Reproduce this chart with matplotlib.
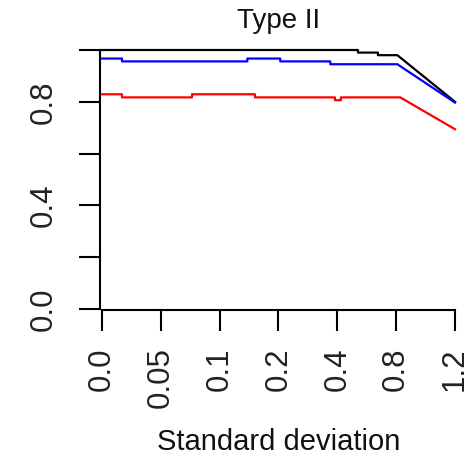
import matplotlib
matplotlib.use("Agg")
import matplotlib.pyplot as plt

# Category tick labels (equally spaced positions)
sd_labels = ["0.0", "0.05", "0.1", "0.2", "0.4", "0.8", "1.2"]

# Series vertices: x in category-index units, y = value
black_x = [0, 4.35, 4.35, 4.69, 4.69, 5.02, 6.0]
black_y = [1.0, 1.0, 0.99, 0.99, 0.98, 0.98, 0.80]

blue_x = [0, 0.34, 0.34, 2.47, 2.47, 3.03, 3.03, 3.88, 3.88, 5.02, 6.0]
blue_y = [0.967, 0.967, 0.956, 0.956, 0.967, 0.967, 0.956, 0.956, 0.945, 0.945, 0.797]

red_x = [0, 0.34, 0.34, 1.53, 1.53, 2.60, 2.60, 3.96, 3.96, 4.06, 4.06, 5.07, 6.0]
red_y = [0.829, 0.829, 0.817, 0.817, 0.829, 0.829, 0.817, 0.817, 0.806, 0.806, 0.817, 0.817, 0.694]

y_ticks = [0.0, 0.2, 0.4, 0.6, 0.8, 1.0]
y_ticklabels = ["0.0", "", "0.4", "", "0.8", ""]

plt.rcParams['font.family'] = ['Liberation Sans', 'DejaVu Sans']

W, H = 477, 458
fig = plt.figure(figsize=(W / 100, H / 100), dpi=100)
left_px, right_px, top_px, bottom_px = 100, 457, 50, 310
ax = fig.add_axes([left_px / W, 1 - bottom_px / H,
                   (right_px - left_px) / W, (bottom_px - top_px) / H])

ax.plot(black_x, black_y, color="black", lw=1.6, clip_on=False)
ax.plot(blue_x, blue_y, color="#0000ff", lw=1.6, clip_on=False)
ax.plot(red_x, red_y, color="#ff0000", lw=1.6, clip_on=False)

ax.set_xlim(-0.034, 6.034)
ax.set_ylim(-0.004, 1.0)

for s in ["top", "right"]:
    ax.spines[s].set_visible(False)
ax.spines["left"].set_bounds(0, 1)
ax.spines["bottom"].set_bounds(0, 6)
for s in ["left", "bottom"]:
    ax.spines[s].set_linewidth(1.5)

ax.set_xticks(range(len(sd_labels)))
ax.set_xticklabels(sd_labels, rotation=90, fontsize=22.5, color="#222222")
ax.set_yticks(y_ticks)
ax.set_yticklabels(y_ticklabels, rotation=90, va="center", fontsize=22.5, color="#222222")
ax.tick_params(axis="both", length=15, width=1.5)
ax.tick_params(axis="x", pad=12)
ax.tick_params(axis="y", pad=15)

ax.set_title("Type II", fontsize=20, pad=16, color="#111111")
ax.set_xlabel("Standard deviation", fontsize=21, labelpad=14, color="#111111")

fig.savefig("out.png", dpi=100)
